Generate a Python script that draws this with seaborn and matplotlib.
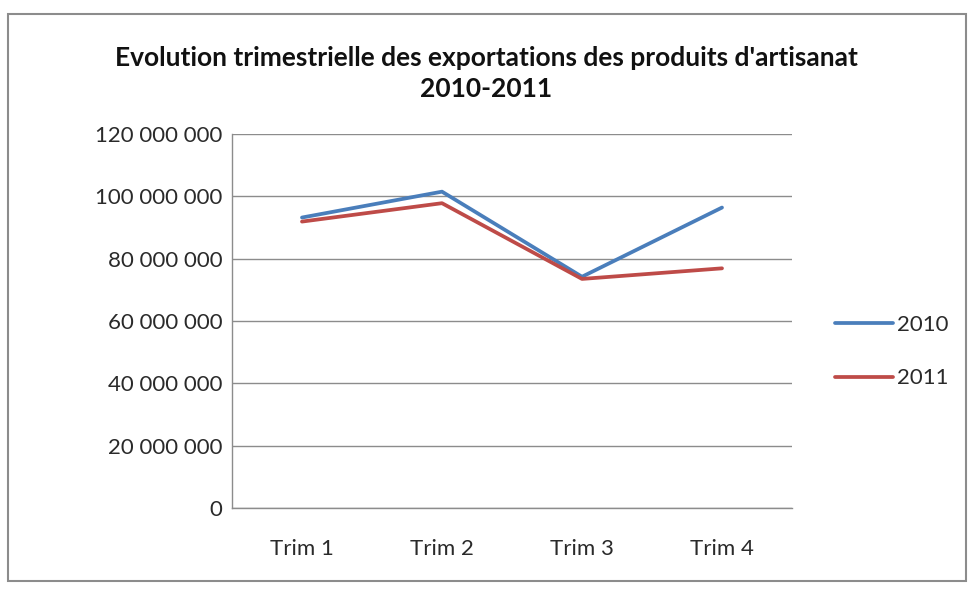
import pandas as pd
import matplotlib.pyplot as plt
import seaborn as sns
from matplotlib.patches import Rectangle
from matplotlib.ticker import FuncFormatter

# données
trimestres = ['Trim 1', 'Trim 2', 'Trim 3', 'Trim 4']
exports_2010 = [93_200_000, 101_500_000, 74_200_000, 96_400_000]
exports_2011 = [91_900_000, 97_800_000, 73_500_000, 76_900_000]

df = pd.DataFrame({
    'Trimestre': trimestres * 2,
    'Exportations': exports_2010 + exports_2011,
    'Annee': ['2010'] * 4 + ['2011'] * 4,
})

sns.set_style('white')
plt.rcParams['font.family'] = ['Lato', 'DejaVu Sans']

fig = plt.figure(figsize=(9.73, 5.95), dpi=100)
ax = fig.add_axes([232 / 973, 1 - 508 / 595, 560 / 973, 374 / 595])

sns.lineplot(data=df, x='Trimestre', y='Exportations', hue='Annee',
             palette={'2010': '#4A7EBB', '2011': '#BE4B48'},
             linewidth=2.7, sort=False, ax=ax)

ax.set_xlim(-0.5, 3.5)
ax.set_ylim(0, 120_000_000)
ax.set_yticks(range(0, 120_000_001, 20_000_000))
ax.yaxis.set_major_formatter(FuncFormatter(lambda v, p: f'{int(v):,}'.replace(',', ' ')))
ax.grid(axis='y', color='#8C8C8C', linewidth=1)
ax.set_axisbelow(True)
for s in ['top', 'right']:
    ax.spines[s].set_visible(False)
for s in ['left', 'bottom']:
    ax.spines[s].set_color('#8C8C8C')
    ax.spines[s].set_linewidth(1)
ax.tick_params(axis='both', length=0, labelsize=16, colors='#2A2A2A')
ax.tick_params(axis='y', pad=7)
ax.tick_params(axis='x', pad=22)
ax.set_xlabel('')
ax.set_ylabel('')

# légende à droite du graphique
leg = ax.legend(loc='center left', bbox_to_anchor=(1.077, 0.418),
                frameon=False, borderaxespad=0, borderpad=0, fontsize=16,
                handlelength=2.6, handletextpad=0.2, labelspacing=1.5)
for t in leg.get_texts():
    t.set_color('#2A2A2A')

fig.text(0.5, 1 - 73.5 / 595,
         "Evolution trimestrielle des exportations des produits d'artisanat\n2010-2011",
         ha='center', va='center', fontsize=19, fontweight='bold',
         linespacing=1.39, color='#111111')

fig.patches.append(Rectangle((8 / 973, 1 - 581 / 595), 958 / 973, 567 / 595,
                             transform=fig.transFigure, fill=False,
                             edgecolor='#8C8C8C', linewidth=1.5))

plt.savefig('out.png', dpi=100)
